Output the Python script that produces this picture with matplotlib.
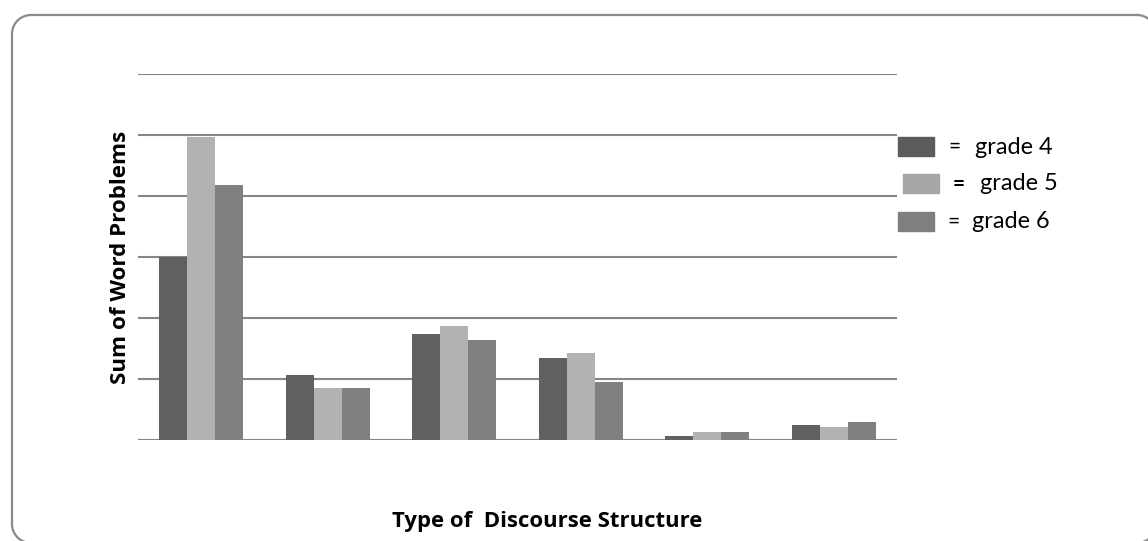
import numpy as np
import matplotlib.pyplot as plt
from matplotlib.patches import Rectangle

# values read off the gridlines (no tick labels in the original, 10 units per gridline)
grade4 = [30.0, 10.7, 17.4, 13.4, 0.7, 2.5]
grade5 = [49.6, 8.5, 18.7, 14.3, 1.3, 2.1]
grade6 = [41.8, 8.5, 16.4, 9.5, 1.3, 3.0]
legend_labels = ["grade 4", "grade 5", "grade 6"]
colors = ["#606060", "#b2b2b2", "#808080"]
legend_colors = ["#5c5c5c", "#a6a6a6", "#7f7f7f"]

W, H = 1148, 541
fig = plt.figure(figsize=(W / 100, H / 100), dpi=100)

# background axes in pixel units, used for the rounded frame
bg = fig.add_axes([0, 0, 1, 1])
bg.set_xlim(0, W)
bg.set_ylim(H, 0)
bg.axis("off")


def rounded_frame(x0, y0, x1, y1, r):
    # corners as quarter circles, y grows downwards
    pts = []
    for cx, cy, a0 in [(x1 - r, y0 + r, -90), (x1 - r, y1 - r, 0),
                       (x0 + r, y1 - r, 90), (x0 + r, y0 + r, 180)]:
        a = np.radians(np.linspace(a0, a0 + 90, 20))
        pts.append(np.column_stack([cx + r * np.cos(a), cy + r * np.sin(a)]))
    pts = np.vstack(pts + [pts[0][:1]])
    return pts[:, 0], pts[:, 1]


fx, fy = rounded_frame(12, 15, 1156, 543, 19)
bg.plot(fx, fy, color="#8a8a8a", linewidth=1.6, clip_on=False)

ax = fig.add_axes([138 / W, 1 - 440 / H, (897 - 138) / W, (440 - 74) / H])

x = np.arange(len(grade4))
bw = 0.222
for i, vals in enumerate([grade4, grade5, grade6]):
    ax.bar(x + (i - 1) * bw, vals, width=bw, color=colors[i], edgecolor="none", zorder=2)

ax.set_xlim(-0.5, len(grade4) - 0.5)
ax.set_ylim(0, 60)
ax.set_yticks(np.arange(0, 61, 10))
ax.grid(axis="y", color="#868686", linewidth=1.5, zorder=1)
ax.set_xticks([])
ax.tick_params(left=False, labelleft=False)
for s in ax.spines.values():
    s.set_visible(False)
ax.patch.set_alpha(0)

renderer = fig.canvas.get_renderer()


def fit(t, target, horizontal=True):
    # scale font so the text spans `target` pixels
    bb = t.get_window_extent(renderer)
    span = bb.width if horizontal else bb.height
    t.set_fontsize(t.get_fontsize() * target / span)


bold_font = "Open Sans"
font = "Lato"
yl = bg.text(121, 257, "Sum of Word Problems", rotation=90, ha="center", va="center",
             fontsize=14, fontweight="bold", family=bold_font)
fit(yl, 255, horizontal=False)
xl = bg.text(547, 522, "Type of  Discourse Structure", ha="center", va="center",
             fontsize=13, fontweight="bold", family=bold_font)
fit(xl, 307)

# hand-placed legend, like the original
patch_pos = [(898, 137), (903, 174), (898, 212)]
eq_x = [948, 953, 947]
txt_x = [975, 980, 972]
for (px, py), ex, tx, lab, c in zip(patch_pos, eq_x, txt_x, legend_labels, legend_colors):
    bg.add_patch(Rectangle((px, py), 36, 19, color=c))
    yc = py + 10
    bg.text(ex, yc, "=", ha="left", va="center", fontsize=15, family=font,
            fontweight="bold" if lab == "grade 5" else "normal")
    t = bg.text(tx, yc, lab, ha="left", va="center", fontsize=15, family=font)
    fit(t, 78)

fig.savefig("out.png", dpi=100)
